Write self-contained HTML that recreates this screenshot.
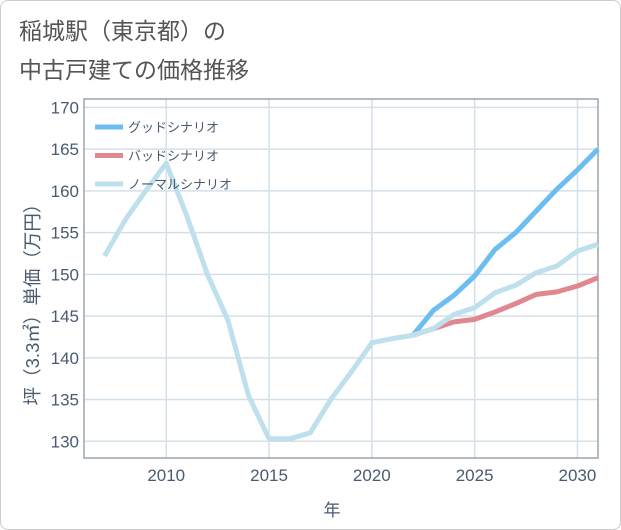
<!DOCTYPE html>
<html><head><meta charset="utf-8"><style>
body{margin:0;background:#fff;}
#wrap{position:relative;width:619px;height:528px;border:1px solid #ccc;border-radius:8px;overflow:hidden;background:#fff;font-family:"Liberation Sans","Noto Sans CJK JP",sans-serif;}
.title{position:absolute;left:18px;color:#555;font-size:23px;line-height:1;}
</style></head><body>
<div id="wrap">
<div class="title" style="top:19px">稲城駅（東京都）の</div>
<div class="title" style="top:58px">中古戸建ての価格推移</div>
<svg id="chart" width="621" height="530" style="position:absolute;left:0;top:0"></svg>
</div>
<script>
const years=[2007,2008,2009,2010,2011,2012,2013,2014,2015,2016,2017,2018,2019,2020,2021,2022,2023,2024,2025,2026,2027,2028,2029,2030,2031];
const normalValues=[152.2,156.5,160,163.3,157,150,144.5,135.5,130.3,130.3,131,135,138.3,141.8,142.3,142.7,143.5,145.2,146,147.8,148.7,150.2,151,152.8,153.6];
const futureYears=[2022,2023,2024,2025,2026,2027,2028,2029,2030,2031];
const goodValues=[142.7,145.7,147.5,149.8,153,155,157.6,160.2,162.5,165];
const badValues=[142.7,143.5,144.3,144.6,145.5,146.5,147.6,147.9,148.6,149.6];
const xTicks=[2010,2015,2020,2025,2030];
const yTicks=[130,135,140,145,150,155,160,165,170];
const legendLabels=["グッドシナリオ","バッドシナリオ","ノーマルシナリオ"];

const NS="http://www.w3.org/2000/svg";
const svg=document.getElementById('chart');
const L=83,R=597,T=98,B=457,x0=2006,x1=2031,y0=128,y1=171;
const xs=v=>L+(v-x0)/(x1-x0)*(R-L);
const ys=v=>B-(v-y0)/(y1-y0)*(B-T);
function mk(t,a){const e=document.createElementNS(NS,t);for(const k in a)e.setAttribute(k,a[k]);svg.appendChild(e);return e;}
const font='"Liberation Sans","Noto Sans CJK JP",sans-serif';
yTicks.forEach(v=>{
  const g=mk('line',{x1:L,x2:R,y1:ys(v),y2:ys(v),stroke:'#d3e0ea','stroke-width':1.5});
  
  
  const t=mk('text',{x:78,y:ys(v)+6,'text-anchor':'end','font-size':17,fill:'#4a5a70','font-family':font});
  t.textContent=v;
  
  
});
xTicks.forEach(v=>{
  const g=mk('line',{x1:xs(v),x2:xs(v),y1:T,y2:B,stroke:'#d3e0ea','stroke-width':1.5});
  
  
  const t=mk('text',{x:xs(v),y:480,'text-anchor':'middle','font-size':17,fill:'#4a5a70','font-family':font});
  t.textContent=v;
  
  
});
const box=mk('rect',{x:L,y:T,width:R-L,height:B-T,fill:'none',stroke:'#9aa4ae','stroke-width':1.5});


function line(xv,yv,col,name){
  const d=xv.map((x,i)=>(i?'L':'M')+xs(x)+','+ys(yv[i])).join(' ');
  const p=mk('path',{d:d,fill:'none',stroke:col,'stroke-width':5,'stroke-linejoin':'round'});
  
  
}
line(futureYears,goodValues,'#6cbdf2','good-scenario-line');
line(futureYears,badValues,'#e0878f','bad-scenario-line');
line(years,normalValues,'#bde0ec','normal-scenario-line');
const lcols=['#6cbdf2','#e0878f','#bde0ec'];
legendLabels.forEach((s,i)=>{
  const y=126+i*28.5;
  const l=mk('line',{x1:94,x2:122,y1:y,y2:y,stroke:lcols[i],'stroke-width':5});
  
  
  const t=mk('text',{x:127,y:y+5,'font-size':13,fill:'#4a5a70','font-family':font});
  t.textContent=s;
  
  
});
const xt=mk('text',{x:331,y:515,'text-anchor':'middle','font-size':17,fill:'#4a5a70','font-family':font});
xt.textContent='年';


const yt=mk('text',{x:0,y:0,'text-anchor':'middle','font-size':18.5,fill:'#4a5a70','font-family':font,transform:'translate(38,299) rotate(-90)'});
yt.textContent='坪（3.3㎡）単価（万円）';


</script>
</body></html>
